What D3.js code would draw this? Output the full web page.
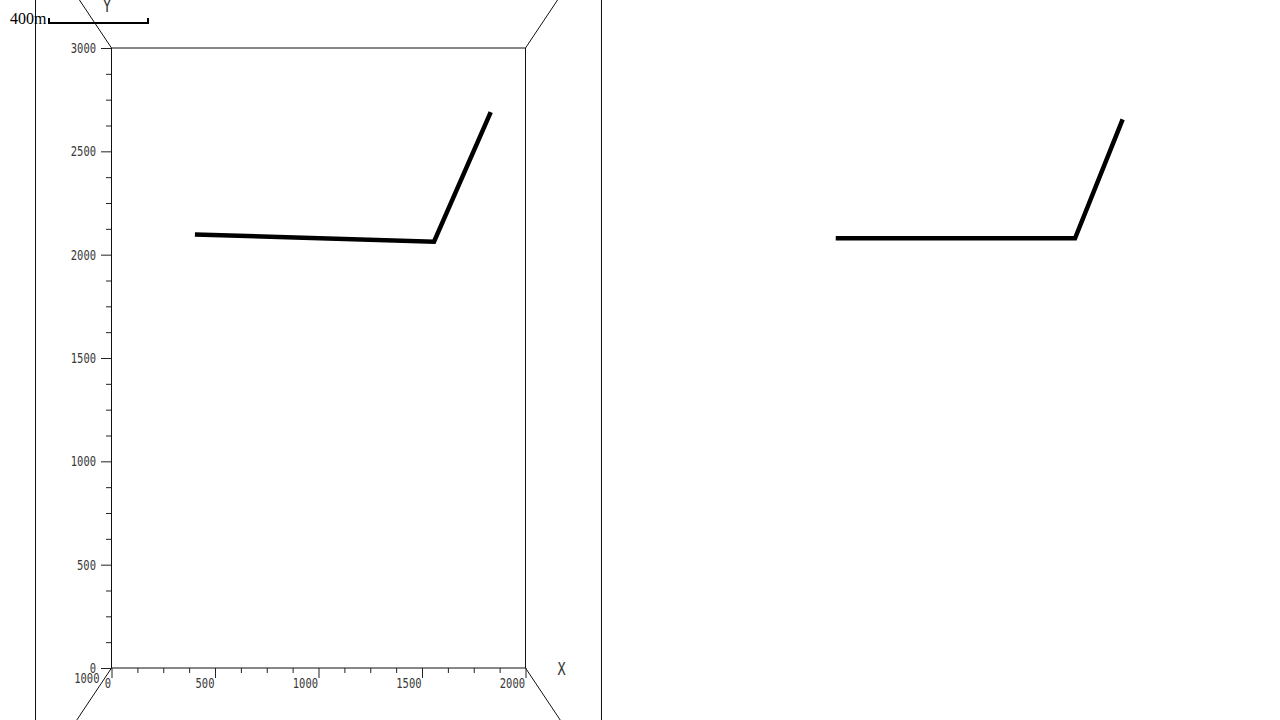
<!DOCTYPE html>
<html>
<head>
<meta charset="utf-8">
<script src="https://cdn.jsdelivr.net/npm/d3@7/dist/d3.min.js"></script>
<style>
  html, body { margin: 0; padding: 0; background: #fff; }
  svg { display: block; }
</style>
</head>
<body>
<svg id="chart" width="1280" height="720"></svg>
<script>
// ---- data ----
const xMajorTicks = [0, 500, 1000, 1500, 2000];
const yMajorTicks = [0, 500, 1000, 1500, 2000, 2500, 3000];
const minorStep = 125;
const zTickLabels = [1000];
const pathXY_x = [403, 1558, 1832];
const pathXY_y = [2098, 2063, 2690];
const pathRight_x = [407, 1563, 1793];
const pathRight_y = [2079, 2079, 2655];
const scaleBarValue = 400;
const scaleBarLabel = "400m";

// ---- scales ----
const svg = d3.select("#chart");
const x = d3.scaleLinear().domain([0, 2000]).range([111.5, 525.5]);
const y = d3.scaleLinear().domain([0, 3000]).range([668, 48]);
const x2 = d3.scaleLinear().domain([0, 2000]).range([751.5, 1165.5]);
const depth = d3.scaleLinear().domain([1000, 0]).range([1, 1.367]);
const barScale = d3.scaleLinear().domain([0, scaleBarValue]).range([49, 148]);

const cx = (x(0) + x(2000)) / 2, cy = (y(0) + y(3000)) / 2;
function proj(px, py, z) {
  const k = depth(z);
  return [cx + (px - cx) * k, cy + (py - cy) * k];
}

// ---- box ----
const box = svg.append("g").attr("stroke", "#111").attr("fill", "none").attr("stroke-width", 1);
const backCorners = [[x(0), y(3000)], [x(2000), y(3000)], [x(2000), y(0)], [x(0), y(0)]];
box.append("path").attr("d", d3.line()(backCorners.concat([backCorners[0]])));
const frontCorners = backCorners.map(c => proj(c[0], c[1], 0));
box.append("path").attr("d", d3.line()(frontCorners.concat([frontCorners[0]])));
backCorners.forEach((c, i) => {
  box.append("line")
    .attr("x1", c[0]).attr("y1", c[1])
    .attr("x2", frontCorners[i][0]).attr("y2", frontCorners[i][1]);
});

// ---- axes ----
const fontMono = "'DejaVu Sans Mono', monospace";
const sx = 0.75;
const fs = 14;
function minor(domainMax) {
  return d3.range(0, domainMax + 1, minorStep).filter(v => v % 500 !== 0);
}

const xAxisG = svg.append("g").attr("transform", `translate(0,${y(0)})`)
  .call(d3.axisBottom(x).tickValues(xMajorTicks).tickSize(10).tickPadding(0).tickFormat(d3.format("d")));
xAxisG.selectAll("text")
  .attr("text-anchor", "end")
  .attr("x", -1 / sx)
  .attr("dy", "0.72em")
  .attr("transform", `scale(${sx},1)`);
svg.append("g").attr("transform", `translate(0,${y(0)})`)
  .call(d3.axisBottom(x).tickValues(minor(2000)).tickSize(5).tickFormat(""));

const yAxisG = svg.append("g").attr("transform", `translate(${x(0) - 0.5},0)`)
  .call(d3.axisLeft(y).tickValues(yMajorTicks).tickSize(10).tickPadding(5).tickFormat(d3.format("d")));
yAxisG.selectAll("text")
  .attr("x", -15 / sx)
  .attr("transform", `scale(${sx},1)`);
svg.append("g").attr("transform", `translate(${x(0) - 0.5},0)`)
  .call(d3.axisLeft(y).tickValues(minor(3000)).tickSize(5).tickFormat(""));

svg.selectAll(".domain").remove();
svg.selectAll(".tick line").attr("stroke", "#222");
svg.selectAll(".tick text")
  .attr("font-family", fontMono).attr("font-size", fs).attr("fill", "#3a3a3a");

// z label
svg.selectAll(".zlabel").data(zTickLabels).enter().append("text")
  .attr("class", "zlabel")
  .attr("transform", `translate(${x(0) - 12},${y(0) + 15}) scale(${sx},1)`)
  .attr("text-anchor", "end")
  .attr("font-family", fontMono).attr("font-size", fs).attr("fill", "#3a3a3a")
  .text(d => d);

// axis titles
svg.append("text")
  .attr("transform", `translate(107,12) scale(${sx},1)`)
  .attr("text-anchor", "middle")
  .attr("font-family", fontMono).attr("font-size", 18).attr("fill", "#333")
  .text("Y");
svg.append("text")
  .attr("transform", `translate(561.5,675) scale(${sx},1)`)
  .attr("text-anchor", "middle")
  .attr("font-family", fontMono).attr("font-size", 18).attr("fill", "#333")
  .text("X");

// ---- data lines ----
const line = d3.line().x(d => d[0]).y(d => d[1]);
const leftPts = pathXY_x.map((v, i) => [x(v), y(pathXY_y[i])]);
const rightPts = pathRight_x.map((v, i) => [x2(v), y(pathRight_y[i])]);
[leftPts, rightPts].forEach(pts => {
  svg.append("path")
    .attr("d", line(pts))
    .attr("fill", "none").attr("stroke", "#000")
    .attr("stroke-width", 4.5)
    .attr("stroke-linejoin", "miter");
});

// ---- scale bar ----
const sb = svg.append("g");
sb.append("path")
  .attr("d", `M${barScale(0)},18 V23 H${barScale(scaleBarValue)} V18`)
  .attr("fill", "none").attr("stroke", "#000").attr("stroke-width", 2);
sb.append("text")
  .attr("x", 10).attr("y", 24)
  .attr("font-family", "'Liberation Serif', 'Times New Roman', Times, serif")
  .attr("font-size", 16).attr("fill", "#000")
  .text(scaleBarLabel);
</script>
</body>
</html>
